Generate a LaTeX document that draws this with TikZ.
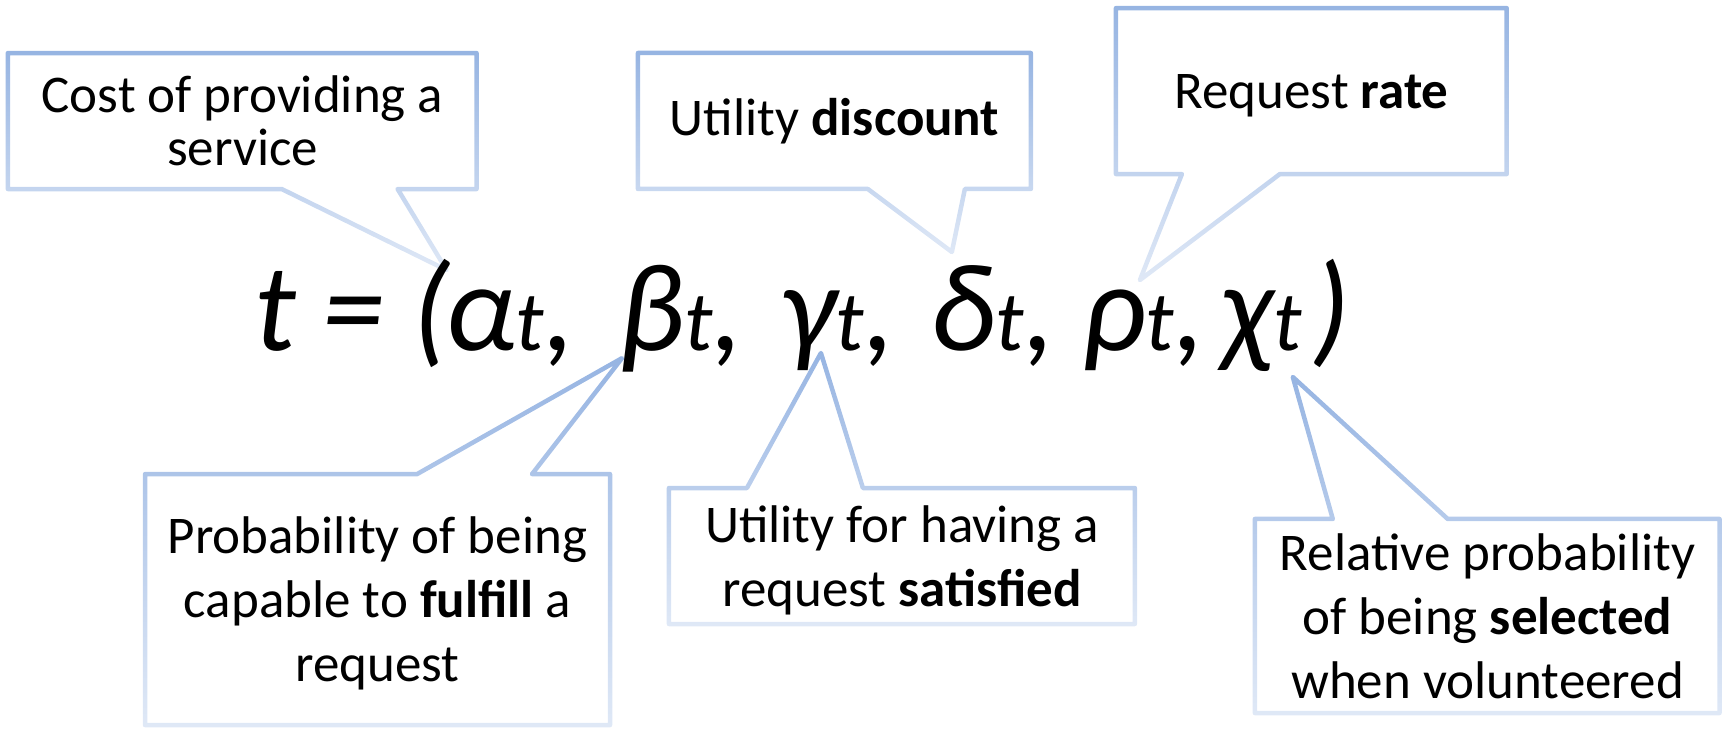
\documentclass[tikz,border=0pt]{standalone}
\usepackage{fontspec}
\setmainfont{Carlito}
\usepackage{tikz}
\usetikzlibrary{fadings}

\definecolor{balloonblue}{RGB}{150,180,226}
\tikzfading[name=fade down, top color=transparent!0, bottom color=transparent!70]

\newcommand{\tsub}{{\fontsize{85}{85}\selectfont t}}
\newcommand{\pointsouth}[4]{%
  \draw[balloon] (#1.north west) -- (#1.north east) -- (#1.south east)
    -- (#1.south -| #3,0) -- (#4) -- (#1.south -| #2,0) -- (#1.south west) -- cycle;}
\newcommand{\pointnorth}[4]{%
  \draw[balloon] (#1.south west) -- (#1.north west) -- (#1.north -| #2,0)
    -- (#4) -- (#1.north -| #3,0) -- (#1.north east) -- (#1.south east) -- cycle;}

\begin{document}
\begin{tikzpicture}[
x=1pt, y=-1pt,
bubble/.style={rectangle, outer sep=0pt, inner sep=0pt, align=center, font=\fontsize{53}{64}\selectfont},
balloon/.style={draw=balloonblue, line width=4.5pt, line join=round, path fading=fade down},
glyph/.style={anchor=base west, inner sep=0pt, font=\fontsize{125}{125}\selectfont\itshape}
]
\useasboundingbox (0,0) rectangle (1723,728);

\node[bubble, minimum width=469pt, minimum height=136pt, font=\fontsize{53}{53}\selectfont] (cost) at (242.5,121) {Cost of providing a\\service};
\node[bubble, minimum width=393pt, minimum height=136pt] (discount) at (834.5,121) {Utility \textbf{discount}};
\node[bubble, minimum width=391pt, minimum height=166pt, text depth=0pt] (rate) at (1311.5,91) {Request \textbf{rate}};
\node[bubble, minimum width=465pt, minimum height=251pt, text depth=0pt] (capable) at (377.5,599.5) {Probability of being\\capable to \textbf{fulfill} a\\request};
\node[bubble, minimum width=466pt, minimum height=136pt, text depth=0pt] (satisfied) at (902,556) {Utility for having a\\request \textbf{satisfied}};
\node[bubble, minimum width=465pt, minimum height=194pt] (selected) at (1487.5,616) {Relative probability\\of being \textbf{selected}\\when volunteered};

\coordinate (tip cost) at (447,270);
\coordinate (tip discount) at (952,252);
\coordinate (tip rate) at (1140,280);
\coordinate (tip capable) at (622,358);
\coordinate (tip satisfied) at (821,353);
\coordinate (tip selected) at (1293,377);

\pointsouth{cost}{282}{398}{tip cost}
\pointsouth{discount}{868}{965}{tip discount}
\pointsouth{rate}{1182}{1280}{tip rate}
\pointnorth{capable}{417}{532}{tip capable}
\pointnorth{satisfied}{747}{863}{tip satisfied}
\pointnorth{selected}{1333}{1448}{tip selected}

\node[glyph] (tname) at (254,350) {t};
\node[glyph] (equals) at (322,350) {=};
\node[glyph] (lpar) at (412,350) {(};
\foreach \sym/\xpos [count=\i] in {α/445, β/618, γ/780, δ/930, ρ/1082}
  \node[glyph] (entry\i) at (\xpos,350) {\sym\tsub,};
\node[glyph] (entry6) at (1220,350) {χ\tsub};
\node[glyph] (rpar) at (1312,350) {)};

\end{tikzpicture}
\end{document}
